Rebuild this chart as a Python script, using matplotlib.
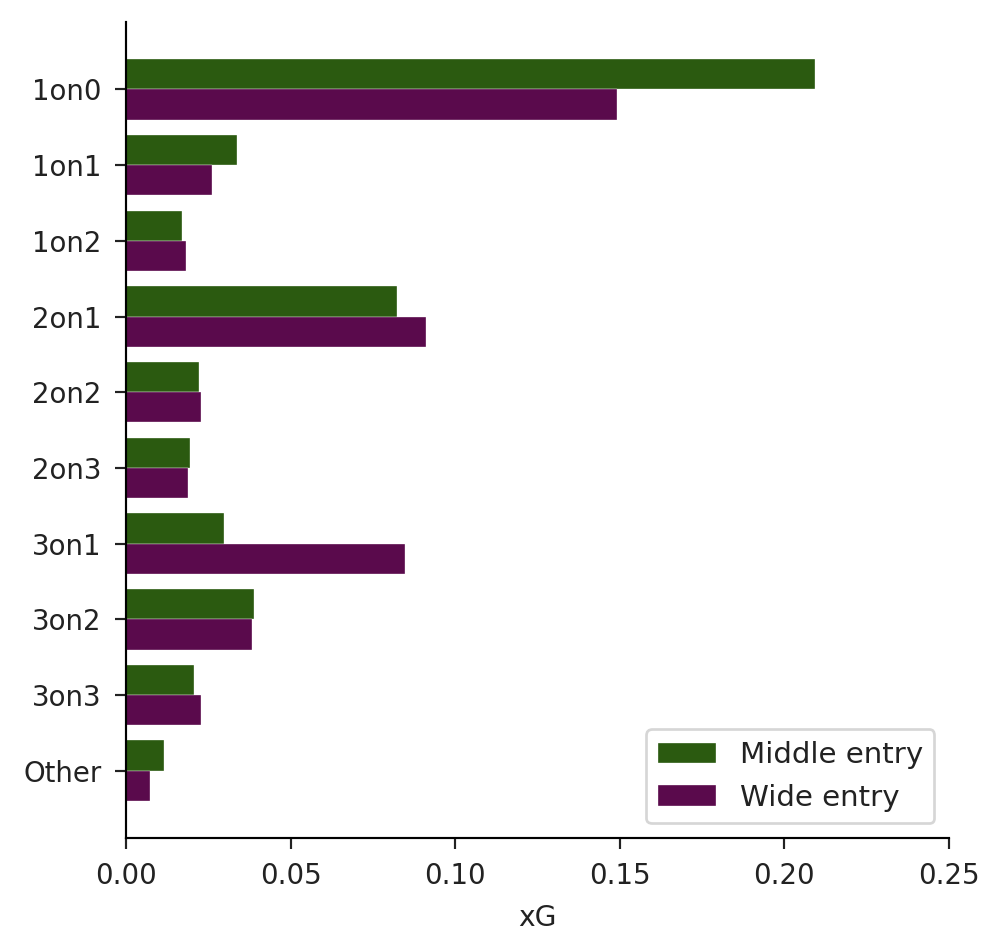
import matplotlib
matplotlib.use("Agg")
import matplotlib.pyplot as plt
import numpy as np

categories = ["1on0", "1on1", "1on2", "2on1", "2on2", "2on3", "3on1", "3on2", "3on3", "Other"]
middle_entry = [0.2093, 0.0337, 0.0170, 0.0823, 0.0222, 0.0194, 0.0298, 0.0389, 0.0207, 0.0115]
wide_entry = [0.1490, 0.0261, 0.0182, 0.0911, 0.0228, 0.0188, 0.0848, 0.0383, 0.0228, 0.0073]

green = "#2b5a10"
purple = "#5a0a4c"

dpi = 195
fig = plt.figure(figsize=(1000 / dpi, 951 / dpi), dpi=dpi)
ax = fig.add_axes([0.126, 0.1188, 0.823, 0.858])

y = np.arange(len(categories))
h = 0.4
ax.barh(y - h / 2, middle_entry, height=h, color=green, edgecolor="white", linewidth=0.12, label="Middle entry")
ax.barh(y + h / 2, wide_entry, height=h, color=purple, edgecolor="white", linewidth=0.12, label="Wide entry")

ax.set_yticks(y)
ax.set_yticklabels(categories)
ax.invert_yaxis()
ax.set_xlim(0, 0.25)
ax.set_xticks([0.0, 0.05, 0.10, 0.15, 0.20, 0.25])
ax.set_xticklabels(["0.00", "0.05", "0.10", "0.15", "0.20", "0.25"])
ax.tick_params(axis="both", length=4.2, pad=4.8, labelsize=10.2, colors="#222222", labelcolor="#222222")
ax.set_xlabel("xG", fontsize=10.4, color="#222222", labelpad=5)
ax.spines["top"].set_visible(False)
ax.spines["right"].set_visible(False)
leg = ax.legend(loc="lower right", fontsize=10.8)
for t in leg.get_texts():
    t.set_color("#222222")

fig.savefig("out.png", dpi=dpi)
